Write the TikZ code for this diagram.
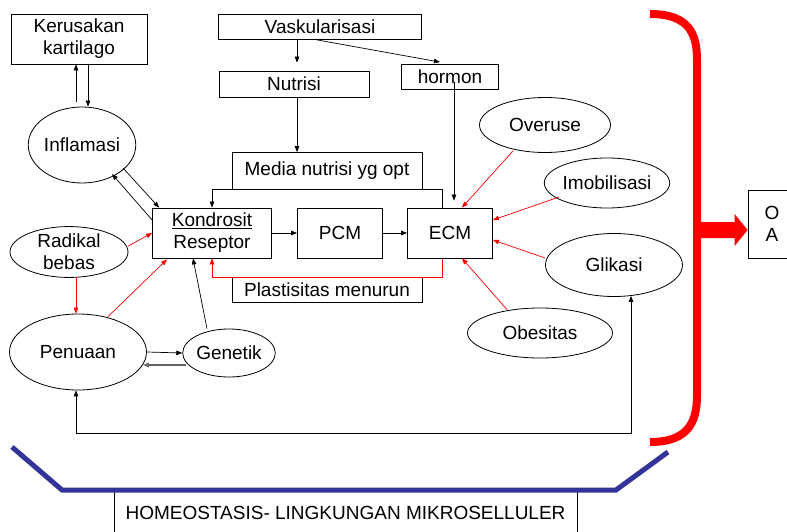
\documentclass[tikz,border=0pt]{standalone}
\usepackage{fontspec}
\setmainfont{Liberation Sans}
\usetikzlibrary{shapes.geometric,arrows.meta,calc}
\definecolor{bracketblue}{HTML}{333399}
\tikzset{
  box/.style={draw=black,line width=0.8pt,inner sep=0pt,align=center,font=\fontsize{19}{22}\selectfont},
  oval/.style={draw=black,line width=0.8pt,ellipse,inner sep=0pt,align=center,font=\fontsize{19}{22}\selectfont},
  arr/.style={-{Triangle[length=6pt,width=4.5pt]},line width=0.7pt,black},
  rarr/.style={-{Triangle[length=6pt,width=4.5pt]},line width=0.7pt,red},
}
\begin{document}
\begin{tikzpicture}[x=1pt,y=-1pt]
\useasboundingbox (0,0) rectangle (787,532);
\clip (0,0) rectangle (787,532);
\fill[white] (0,0) rectangle (787,532);

% boxes
\node[box,minimum width=136pt,minimum height=50pt] (ker) at (79,39) {Kerusakan\\kartilago};
\node[box,minimum width=203pt,minimum height=25pt] (vask) at (320,27) {Vaskularisasi};
\node[box,minimum width=150pt,minimum height=26pt] (nut) at (294,84) {Nutrisi};
\node[box,minimum width=97pt,minimum height=25pt] (horm) at (450,77) {hormon};
\node[box,minimum width=190pt,minimum height=37pt] (media) at (327,171) {Media nutrisi yg opt};
\node[box,minimum width=119pt,minimum height=50pt] (kond) at (212,233) {\underline{Kondrosit}\\Reseptor};
\node[box,minimum width=85pt,minimum height=50pt] (pcm) at (340,233) {PCM};
\node[box,minimum width=85pt,minimum height=50pt] (ecm) at (450,233) {ECM};
\node[box,minimum width=190pt,minimum height=25pt] (plast) at (327,290) {Plastisitas menurun};
\node[box,minimum width=48pt,minimum height=68pt] (oa) at (772,224) {O\\A};
\node[box,minimum width=463pt,minimum height=46pt] (homeo) at (345.5,513) {HOMEOSTASIS- LINGKUNGAN MIKROSELLULER};

% ellipses
\node[oval,minimum width=104pt,minimum height=76pt] (inf) at (82,145) {Inflamasi};
\node[oval,minimum width=118pt,minimum height=50pt] (rad) at (69,252) {Radikal\\bebas};
\node[oval,minimum width=137pt,minimum height=76pt] (pen) at (78,352) {Penuaan};
\node[oval,minimum width=86pt,minimum height=48pt] (gen) at (229,353) {Genetik};
\node[oval,minimum width=131pt,minimum height=55pt] (over) at (545,125) {Overuse};
\node[oval,minimum width=111pt,minimum height=50pt] (imob) at (607,183) {Imobilisasi};
\node[oval,minimum width=137pt,minimum height=63pt] (glik) at (614,265) {Glikasi};
\node[oval,minimum width=145pt,minimum height=50pt] (obes) at (540,333) {Obesitas};

% black connectors
\draw[arr] ($(inf.north)+(-6,-5)$) -- ($(ker.south)+(-3,0)$);
\draw[arr] ($(ker.south)+(9,0)$) -- ($(inf.north)+(6,0)$);
\draw[arr] ($(vask.south)+(-23,0)$) -- ($(nut.north)+(3,-8)$);
\draw[arr] ($(vask.south)+(-3,0)$) -- ($(horm.north)+(-10,-2)$);
\draw[arr] ($(horm.south)+(4,-8)$) -- ($(ecm.north)+(4,-7)$);
\draw[arr] ($(nut.south)+(3,0)$) -- ($(media.north)+(-30,0)$);
\draw[arr] ($(ecm.north)+(-8,0)$) -- ++(0,-18) -| (kond.north);
\draw[arr] (kond.east) -- (pcm.west);
\draw[arr] (pcm.east) -- (ecm.west);
\draw[arr] ($(inf.center)+(41,23)$) -- ($(kond.north west)+(7,0)$);
\draw[arr] ($(kond.west)+(0,-13)$) -- ($(inf.center)+(30,29)$);
\draw[arr] (pen.east) -- (gen.west);
\draw[-{Triangle[length=6pt,width=4.5pt]},line width=1.5pt,black!60] ($(gen.west)+(4,12)$) -- ($(pen.east)+(-4,13)$);
\draw[arr] ($(gen.north)+(-22,0)$) -- ($(kond.south)+(-19,0)$);
\draw[{Triangle[length=6pt,width=4.5pt]}-{Triangle[length=6pt,width=4.5pt]},line width=0.7pt] ($(pen.south)+(-2,0)$) -- ++(0,43) -| ($(glik.south)+(17,-1)$);

% red connectors
\draw[rarr] ($(ecm.south)+(-8,0)$) -- ++(0,19) -| (kond.south);
\draw[rarr] ($(rad.east)+(0,-6)$) -- (kond.west);
\draw[rarr] ($(rad.south)+(7,0)$) -- ($(pen.north)+(-2,0)$);
\draw[rarr] ($(pen.north)+(30,3)$) -- ($(kond.south)+(-45,1)$);
\draw[rarr] ($(over.south)+(-32,-2)$) -- ($(ecm.north)+(12,0)$);
\draw[rarr] ($(imob.center)+(-48,14)$) -- ($(ecm.east)+(0,-13)$);
\draw[rarr] ($(glik.west)+(0,-7)$) -- ($(ecm.east)+(0,7)$);
\draw[rarr] ($(obes.north)+(-33,2)$) -- ($(ecm.south)+(12,0)$);

% red bracket
\draw[red,line width=8pt] (650,14) .. controls (690,14) and (697,35) .. (697,60) -- (697,395) .. controls (697,420) and (690,442) .. (650,442);
\fill[red] (697,222) -- ($(oa.west)+(-13,-2)$) -- ($(oa.west)+(-13,-10)$) -- ($(oa.west)+(0,6)$) -- ($(oa.west)+(-13,22)$) -- ($(oa.west)+(-13,14)$) -- (697,238) -- cycle;

% blue bracket
\draw[bracketblue,line width=5pt] (12,447) -- (62,490) -- (616,490) -- (668,452);
\end{tikzpicture}
\end{document}
